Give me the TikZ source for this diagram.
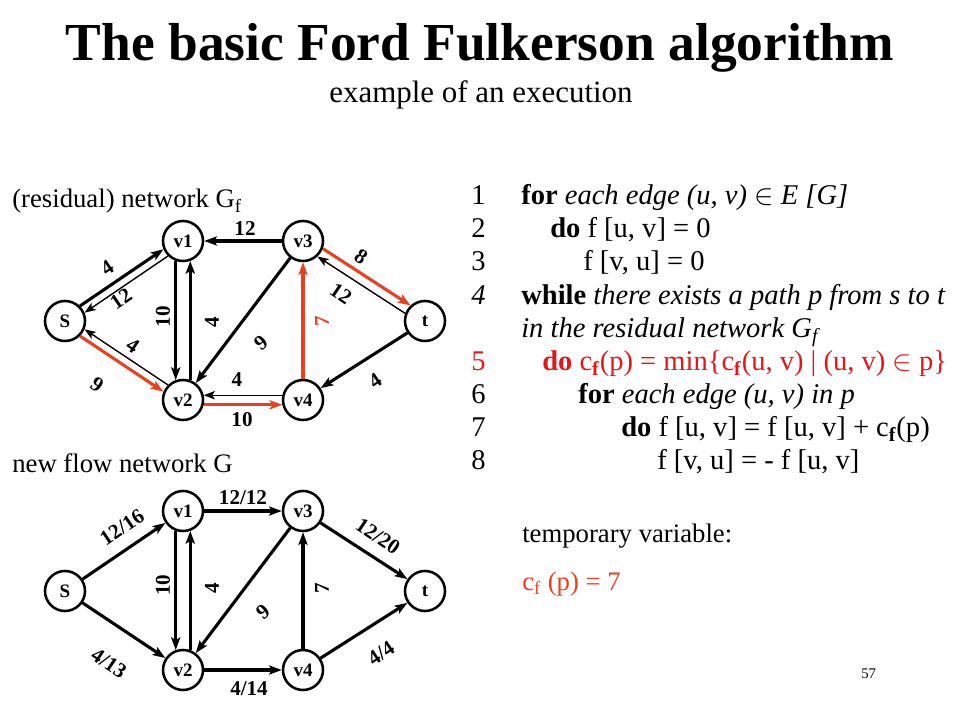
\documentclass[tikz,border=0pt]{standalone}
\usepackage{fontspec}
\setmainfont{Liberation Serif}
\usetikzlibrary{arrows.meta,positioning}
\definecolor{pathred}{RGB}{234,64,30}
\definecolor{codered}{RGB}{225,25,25}

\begin{document}
\begin{tikzpicture}[x=0.025cm,y=-0.025cm,
    vertex/.style={circle,draw,line width=1.8pt,minimum size=1cm,inner sep=0pt,
        font=\fontsize{13.5}{15}\selectfont\bfseries},
    capedge/.style={line width=2.2pt,-{Stealth[length=9pt,width=6.5pt,inset=2pt]}},
    resedge/.style={line width=1pt,-{Stealth[length=8pt,width=6pt,inset=2pt]}},
    augedge/.style={capedge,draw=pathred},
    wt/.style={inner sep=0pt,font=\fontsize{15}{17}\selectfont\bfseries},
    code/.style={anchor=base west,inner sep=0pt,font=\fontsize{20.3}{24}\selectfont},
    txt/.style={anchor=base west,inner sep=0pt,font=\fontsize{19}{22}\selectfont}]
    \useasboundingbox (0,0) rectangle (960,720);

    % Titel
    \node (title) at (480,61) [anchor=base,font=\fontsize{38}{41}\selectfont\bfseries]
        {The basic Ford Fulkerson algorithm};
    \node (subtitle) at (481,103) [anchor=base,font=\fontsize{22}{26}\selectfont]
        {example of an execution};

    % Residualnetz G_f
    \node (reslabel) at (12,208) [txt] {(residual) network G\textsubscript{f}};
    \node[vertex] (rs)  at (65,321)  {S};
    \node[vertex] (rv1) at (183,241) {v1};
    \node[vertex] (rv3) at (303,241) {v3};
    \node[vertex] (rt)  at (425,321) {t};
    \node[vertex] (rv2) at (183,400) {v2};
    \node[vertex] (rv4) at (303,400) {v4};

    \draw[capedge] (rs.45) -- (rv1.203);
    \draw[resedge] (rv1.225) -- (rs.23);
    \draw[capedge] (rv1.250) -- (rv2.110);
    \draw[capedge] (rv2.70) -- (rv1.290);
    \draw[capedge] (rv3.180) -- (rv1.0);
    \draw[capedge] (rv3.233) -- (rv2.53);
    \draw[augedge] (rs.-45) -- (rv2.157);
    \draw[resedge] (rv2.135) -- (rs.-23);
    \draw[augedge] (rv2.-13) -- (rv4.193);
    \draw[resedge] (rv4.167) -- (rv2.13);
    \draw[augedge] (rv4.90) -- (rv3.270);
    \draw[augedge] (rv3.-21) -- (rt.133);
    \draw[resedge] (rt.159) -- (rv3.-47);
    \draw[capedge] (rt.214) -- (rv4.34);

    % Kantengewichte oben
    \node[wt,rotate=34]  at (107,268) {4};
    \node[wt,rotate=34]  at (121,299) {12};
    \node[wt,rotate=90]  at (163,317) {10};
    \node[wt,rotate=90]  at (212,322) {4};
    \node[wt]            at (245,229) {12};
    \node[wt,rotate=40]  at (261,343) {9};
    \node[wt,rotate=90,text=pathred] at (322,321) {7};
    \node[wt,rotate=-34] at (361,257) {8};
    \node[wt,rotate=-34] at (341,294) {12};
    \node[wt,rotate=34]  at (375,381) {4};
    \node[wt,rotate=-34] at (133,346) {4};
    \node[wt,rotate=-34] at (97,385)  {9};
    \node[wt]            at (237,380) {4};
    \node[wt]            at (242,420) {10};

    % neues Flussnetz G
    \node (flowlabel) at (12,473) [txt] {new flow network G};
    \node[vertex] (ns)  at (65,591)  {S};
    \node[vertex] (nv1) at (183,511) {v1};
    \node[vertex] (nv3) at (303,511) {v3};
    \node[vertex] (nt)  at (425,591) {t};
    \node[vertex] (nv2) at (183,670) {v2};
    \node[vertex] (nv4) at (303,670) {v4};

    \draw[capedge] (ns.34) -- (nv1.214);
    \draw[capedge] (ns.-34) -- (nv2.146);
    \draw[capedge] (nv1.0) -- (nv3.180);
    \draw[capedge] (nv3.-34) -- (nt.146);
    \draw[capedge] (nv1.250) -- (nv2.110);
    \draw[capedge] (nv2.70) -- (nv1.290);
    \draw[capedge] (nv3.233) -- (nv2.53);
    \draw[capedge] (nv4.90) -- (nv3.270);
    \draw[capedge] (nv2.0) -- (nv4.180);
    \draw[capedge] (nv4.34) -- (nt.214);

    % Kantengewichte unten
    \node[wt,rotate=34]  at (122,527) {12/16};
    \node[wt,rotate=-34] at (109,663) {4/13};
    \node[wt]            at (243,498) {12/12};
    \node[wt,rotate=-34] at (378,536) {12/20};
    \node[wt,rotate=90]  at (163,585) {10};
    \node[wt,rotate=90]  at (212,588) {4};
    \node[wt,rotate=40]  at (263,612) {9};
    \node[wt,rotate=90]  at (322,588) {7};
    \node[wt]            at (249,689) {4/14};
    \node[wt,rotate=34]  at (381,653) {4/4};

    % Pseudocode
    \node (n1) at (471,205) [code] {1};
    \node (l1) at (521,205) [code] {\textbf{for} \textit{each edge (u, v) $\in$ E [G]}};
    \node (n2) at (471,238) [code] {2};
    \node (l2) at (550,238) [code] {\textbf{do} f [u, v] = 0};
    \node (n3) at (471,271) [code] {3};
    \node (l3) at (583,271) [code] {f [v, u] = 0};
    \node (n4) at (471,305) [code] {\textit{4}};
    \node (l4) at (521,305) [code] {\textbf{while} \textit{there exists a path p from s to t}};
    \node (l4b) at (521,338) [code] {\textit{in the residual network G\textsubscript{f}}};
    \node (n5) at (471,371) [code,text=codered] {5};
    \node (l5) at (542,371) [code,text=codered]
        {\textbf{do} c\textsubscript{\textbf{f}}(p) = min\{c\textsubscript{\textbf{f}}(u, v) | (u, v) $\in$ p\}};
    \node (n6) at (471,404) [code] {6};
    \node (l6) at (578,404) [code] {\textbf{for} \textit{each edge (u, v) in p}};
    \node (n7) at (471,437) [code] {7};
    \node (l7) at (621,437) [code] {\textbf{do} f [u, v] = f [u, v] + c\textsubscript{\textbf{f}}(p)};
    \node (n8) at (471,470) [code] {8};
    \node (l8) at (657,470) [code] {f [v, u] = - f [u, v]};

    % Hilfsvariable
    \node (tmp) at (522,543) [txt] {temporary variable:};
    \node (cfp) at (522,590) [txt,text=pathred] {c\textsubscript{f} (p) = 7};

    % Seitenzahl
    \node (page) at (861,678) [anchor=base west,inner sep=0pt,font=\fontsize{10.5}{12}\selectfont] {57};
\end{tikzpicture}
\end{document}
